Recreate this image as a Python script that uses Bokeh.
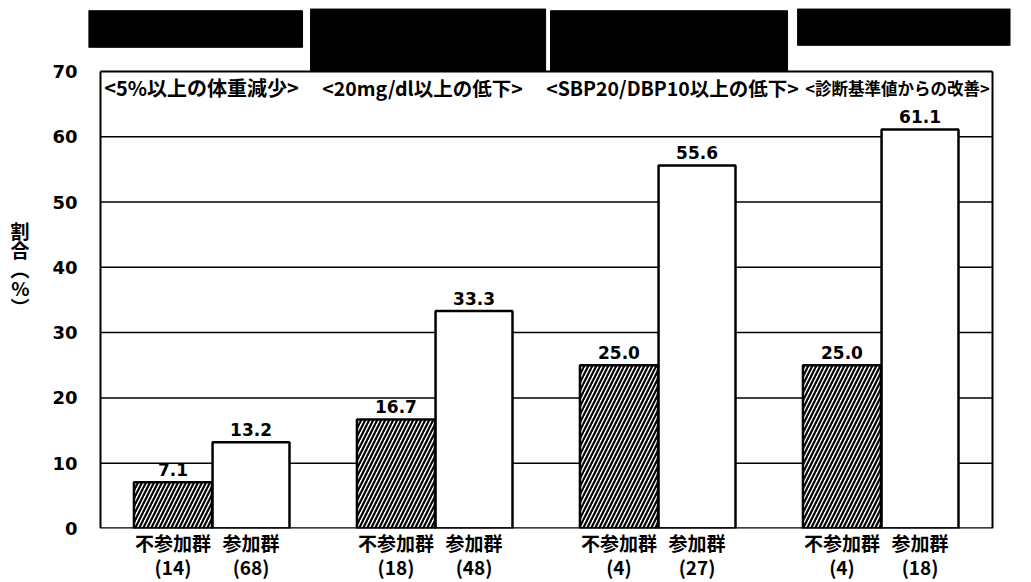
from bokeh.plotting import figure
from bokeh.models import Range1d, FixedTicker, ColumnDataSource
from bokeh.core.properties import value
from bokeh.embed import file_html
from bokeh.resources import INLINE

# ---- data ----
groups = ["<5%以上の体重減少>", "<20mg/dl以上の低下>", "<SBP20/DBP10以上の低下>", "<診断基準値からの改善>"]
series_names = ["不参加群", "参加群"]
nonpart = [7.1, 16.7, 25.0, 25.0]
part = [13.2, 33.3, 55.6, 61.1]
n_nonpart = [14, 18, 4, 4]
n_part = [68, 48, 27, 18]
y_ticks = [0, 10, 20, 30, 40, 50, 60, 70]
y_title = "割\n合\n︵\n%\n︶"

CJK = "Noto Sans CJK JP"
NUM = "DejaVu Sans"

p = figure(width=1031, height=582, output_backend="svg", toolbar_location=None,
           x_range=Range1d(-0.0538, 4.0807), y_range=Range1d(0, 79.64),
           min_border_left=88, min_border_right=21, min_border_top=8, min_border_bottom=54)
p.background_fill_color = "white"
p.border_fill_color = "white"
p.outline_line_color = None
p.grid.visible = False

# y axis (labels only; frame lines drawn below)
p.yaxis.ticker = FixedTicker(ticks=y_ticks)
p.yaxis.bounds = (0, 70)
p.yaxis.axis_line_color = None
p.yaxis.major_tick_out = 0
p.yaxis.major_tick_in = 0
p.yaxis.minor_tick_out = 0
p.yaxis.minor_tick_in = 0
p.yaxis.major_label_text_font = NUM
p.yaxis.major_label_text_font_style = "bold"
p.yaxis.major_label_text_font_size = "18px"
p.yaxis.major_label_text_color = "black"
p.yaxis.major_label_standoff = 11
p.yaxis.axis_label = y_title
p.yaxis.axis_label_orientation = "horizontal"
p.yaxis.axis_label_text_font = CJK
p.yaxis.axis_label_text_font_style = "bold"
p.yaxis.axis_label_text_font_size = "19px"
p.yaxis.axis_label_text_line_height = 0.7
p.yaxis.axis_label_text_color = "black"
p.yaxis.axis_label_standoff = 20

# bars
idx = list(range(len(groups)))
x_non = [i + 0.325 for i in idx]
x_par = [i + 0.675 for i in idx]

# x axis: category labels only
tick_x = x_non + x_par
overrides = {}
for i in idx:
    overrides[x_non[i]] = "%s\n(%d)" % (series_names[0], n_nonpart[i])
    overrides[x_par[i]] = "%s\n(%d)" % (series_names[1], n_part[i])
p.xaxis.ticker = FixedTicker(ticks=tick_x)
p.xaxis.major_label_overrides = overrides
p.xaxis.axis_line_color = None
p.xaxis.major_tick_out = 0
p.xaxis.major_tick_in = 0
p.xaxis.minor_tick_out = 0
p.xaxis.minor_tick_in = 0
p.xaxis.major_label_text_font = CJK
p.xaxis.major_label_text_font_style = "bold"
p.xaxis.major_label_text_font_size = "19px"
p.xaxis.major_label_text_line_height = 0.9
p.xaxis.major_label_text_color = "black"
p.xaxis.major_label_standoff = 0

# gridlines and frame
inner = y_ticks[1:-1]
p.segment(x0=[0] * len(inner), x1=[4] * len(inner), y0=inner, y1=inner,
          line_color="black", line_width=1.5)
p.segment(x0=[0, 4, 0], x1=[0, 4, 4], y0=[0, 0, 70], y1=[70, 70, 70],
          line_color="black", line_width=2)

p.vbar(x=x_non, top=nonpart, width=0.35, bottom=0, fill_color="white",
       hatch_pattern="/", hatch_color="black", hatch_scale=8, hatch_weight=2.2,
       line_color="black", line_width=2.5)
p.vbar(x=x_par, top=part, width=0.345, bottom=0, fill_color="white",
       line_color="black", line_width=2.5)

p.segment(x0=[0], x1=[4], y0=[0], y1=[0], line_color="black", line_width=2.5)

# value labels
src_v = ColumnDataSource(dict(
    x=x_non + x_par,
    y=[v + 1.0 for v in nonpart + part],
    t=["%.1f" % v for v in nonpart + part]))
p.text(x="x", y="y", text="t", source=src_v, text_align="center", text_baseline="bottom",
       text_font=value(NUM), text_font_style="bold", text_font_size="17px", text_color="black")

# group headers
hdr_x = [0.453, 1.444, 2.565, 3.574]
hdr_size = ["20px", "19.5px", "19.5px", "16.5px"]
src_h = ColumnDataSource(dict(x=hdr_x, y=[67.5] * 4, t=groups, s=hdr_size))
p.text(x="x", y="y", text="t", source=src_h, text_align="center", text_baseline="middle",
       text_font=value(CJK), text_font_style="bold", text_font_size="s", text_color="black")

# redaction boxes above the plot
box_l = [-0.054, 0.942, 2.018, 3.126]
box_r = [0.906, 1.996, 3.081, 4.08]
box_t = [79.3, 79.6, 79.3, 79.6]
box_b = [73.7, 70.0, 70.0, 74.0]
p.quad(left=box_l, right=box_r, top=box_t, bottom=box_b, fill_color="black", line_color="black")

open("out.html", "w").write(file_html(p, INLINE))
